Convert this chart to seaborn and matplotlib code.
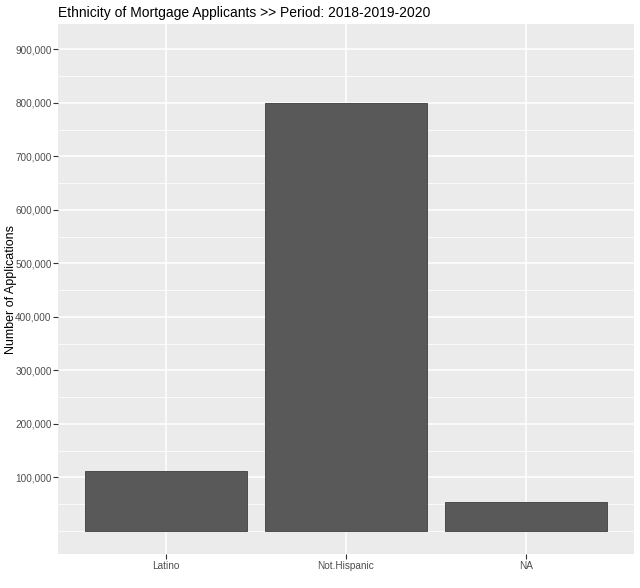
import numpy as np
import pandas as pd
import matplotlib
matplotlib.use("Agg")
import matplotlib.pyplot as plt
import matplotlib.ticker as mticker
import seaborn as sns

ethnicity = ["Latino", "Not.Hispanic", "NA"]
applications = [111000, 800500, 54000]
y_breaks = [100000, 200000, 300000, 400000, 500000, 600000, 700000, 800000, 900000]

df = pd.DataFrame({"ethnicity": ethnicity, "applications": applications})

sns.set_theme(style="darkgrid")
plt.rcParams["font.family"] = ["Liberation Sans", "DejaVu Sans"]

fig = plt.figure(figsize=(6.4, 5.88), dpi=100)
ax = fig.add_axes([0.0906, 0.0578, 0.9, 0.9012])
ax.set_facecolor("#EBEBEB")

sns.barplot(data=df, x="ethnicity", y="applications", color="#595959",
            saturation=1, width=0.9, edgecolor="#3d3d3d", linewidth=0.6,
            ax=ax, zorder=3)

ax.set_xlim(-0.6, 2.6)
ax.set_ylim(-43400, 947300)
ax.set_yticks(y_breaks)
ax.yaxis.set_major_formatter(mticker.FuncFormatter(lambda v, p: f"{int(v):,}"))
ax.yaxis.set_minor_locator(mticker.FixedLocator(
    [0, 50000] + [b + 50000 for b in y_breaks[:-1]]))

ax.grid(False)
ax.grid(which="major", color="white", linewidth=1.1, zorder=0)
ax.grid(which="minor", axis="y", color="white", linewidth=0.55, zorder=0)
ax.set_axisbelow(True)
for s in ax.spines.values():
    s.set_visible(False)

ax.tick_params(axis="both", which="major", length=3.5, width=0.8, color="#333333",
               labelsize=7.2, labelcolor="#4D4D4D", left=True, bottom=True)
ax.tick_params(axis="y", which="major", pad=1.0)
ax.tick_params(axis="x", which="major", pad=1.5)
ax.tick_params(axis="y", which="minor", length=0)

ax.set_xlabel("")
ax.set_ylabel("Number of Applications", fontsize=9, color="black")
ax.yaxis.set_label_coords(-0.071, 0.5)
ax.set_title("Ethnicity of Mortgage Applicants >> Period: 2018-2019-2020",
             loc="left", fontsize=10, color="black", pad=5)

fig.savefig("out.png", dpi=100)
